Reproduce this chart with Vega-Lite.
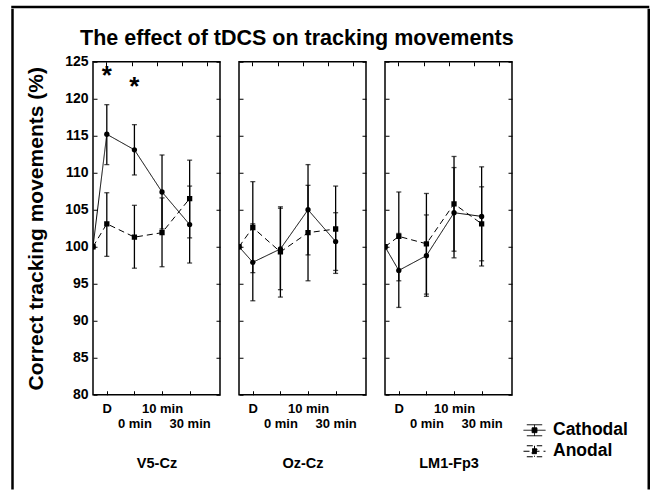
{
  "$schema": "https://vega.github.io/schema/vega-lite/v6.json",
  "background": "white",
  "padding": {"left": 11.25, "top": 5.75, "right": 3, "bottom": 0},
  "datasets": {
    "d": [
      {"site": "V5-Cz", "group": "Cathodal", "t": 0.5, "mean": 100, "lo": null, "hi": null},
      {"site": "V5-Cz", "group": "Cathodal", "t": 1, "mean": 115.2, "lo": 111.1, "hi": 119.2},
      {"site": "V5-Cz", "group": "Cathodal", "t": 2, "mean": 113.1, "lo": 109.7, "hi": 116.5},
      {"site": "V5-Cz", "group": "Cathodal", "t": 3, "mean": 107.4, "lo": 102.4, "hi": 112.4},
      {"site": "V5-Cz", "group": "Cathodal", "t": 4, "mean": 103.0, "lo": 97.8, "hi": 108.2},
      {"site": "V5-Cz", "group": "Anodal", "t": 0.5, "mean": 100, "lo": null, "hi": null},
      {"site": "V5-Cz", "group": "Anodal", "t": 1, "mean": 103.1, "lo": 98.7, "hi": 107.3},
      {"site": "V5-Cz", "group": "Anodal", "t": 2, "mean": 101.3, "lo": 97.1, "hi": 105.6},
      {"site": "V5-Cz", "group": "Anodal", "t": 3, "mean": 101.9, "lo": 97.3, "hi": 106.6},
      {"site": "V5-Cz", "group": "Anodal", "t": 4, "mean": 106.5, "lo": 101.2, "hi": 111.7},
      {"site": "Oz-Cz", "group": "Cathodal", "t": 0.5, "mean": 100, "lo": null, "hi": null},
      {"site": "Oz-Cz", "group": "Cathodal", "t": 1, "mean": 97.9, "lo": 92.7, "hi": 103.1},
      {"site": "Oz-Cz", "group": "Cathodal", "t": 2, "mean": 99.7, "lo": 94.2, "hi": 105.2},
      {"site": "Oz-Cz", "group": "Cathodal", "t": 3, "mean": 105.0, "lo": 98.9, "hi": 111.1},
      {"site": "Oz-Cz", "group": "Cathodal", "t": 4, "mean": 100.7, "lo": 96.8, "hi": 104.6},
      {"site": "Oz-Cz", "group": "Anodal", "t": 0.5, "mean": 100, "lo": null, "hi": null},
      {"site": "Oz-Cz", "group": "Anodal", "t": 1, "mean": 102.6, "lo": 96.5, "hi": 108.8},
      {"site": "Oz-Cz", "group": "Anodal", "t": 2, "mean": 99.3, "lo": 93.2, "hi": 105.4},
      {"site": "Oz-Cz", "group": "Anodal", "t": 3, "mean": 101.9, "lo": 95.4, "hi": 108.3},
      {"site": "Oz-Cz", "group": "Anodal", "t": 4, "mean": 102.4, "lo": 96.4, "hi": 108.2},
      {"site": "LM1-Fp3", "group": "Cathodal", "t": 0.5, "mean": 100, "lo": null, "hi": null},
      {"site": "LM1-Fp3", "group": "Cathodal", "t": 1, "mean": 96.8, "lo": 91.8, "hi": 101.8},
      {"site": "LM1-Fp3", "group": "Cathodal", "t": 2, "mean": 98.8, "lo": 93.3, "hi": 104.3},
      {"site": "LM1-Fp3", "group": "Cathodal", "t": 3, "mean": 104.6, "lo": 98.5, "hi": 110.7},
      {"site": "LM1-Fp3", "group": "Cathodal", "t": 4, "mean": 104.1, "lo": 97.4, "hi": 110.8},
      {"site": "LM1-Fp3", "group": "Anodal", "t": 0.5, "mean": 100, "lo": null, "hi": null},
      {"site": "LM1-Fp3", "group": "Anodal", "t": 1, "mean": 101.4, "lo": 95.4, "hi": 107.4},
      {"site": "LM1-Fp3", "group": "Anodal", "t": 2, "mean": 100.4, "lo": 93.6, "hi": 107.2},
      {"site": "LM1-Fp3", "group": "Anodal", "t": 3, "mean": 105.8, "lo": 99.4, "hi": 112.2},
      {"site": "LM1-Fp3", "group": "Anodal", "t": 4, "mean": 103.1, "lo": 98.1, "hi": 108.1}
    ],
    "stars": [
      {"site": "V5-Cz", "t": 1, "y": 123.3, "label": "*"},
      {"site": "V5-Cz", "t": 2, "y": 121.9, "label": "*"}
    ],
    "none": []
  },
  "spacing": 0,
  "bounds": "flush",
  "vconcat": [
    {
      "width": 638, "height": 2.5,
      "data": {"name": "none"},
      "mark": {"type": "point"},
      "view": {"fill": "black", "stroke": null}
    },
    {
      "spacing": 78.75,
      "bounds": "flush",
      "hconcat": [
        {
          "width": 2.5, "height": 480.75,
          "data": {"name": "none"},
          "mark": {"type": "point"},
          "view": {"fill": "black", "stroke": null}
        },
        {
          "spacing": 0,
          "bounds": "flush",
          "vconcat": [
            {
              "width": 127, "height": 52.75,
              "data": {"name": "none"},
              "mark": {"type": "point"},
              "view": {"stroke": null}
            },
            {
              "title": {"text": "The effect of tDCS on tracking movements", "font": "Liberation Sans", "fontWeight": "bold", "fontSize": 21.5, "color": "black", "anchor": "start", "frame": "group", "dx": -13, "offset": 5},
              "spacing": 19,
              "bounds": "flush",
              "resolve": {"legend": {"strokeDash": "independent"}},
              "hconcat": [
                {
                  "width": 127, "height": 333,
                  "data": {"name": "d"},
                  "transform": [{"filter": "datum.site == 'V5-Cz'"}],
                  "resolve": {"axis": {"x": "independent", "y": "independent"}},
                  "layer": [
                    {
                      "mark": {"type": "line", "clip": true, "color": "black", "strokeWidth": 1},
                      "encoding": {
                        "x": {"field": "t", "type": "quantitative", "scale": {"domain": [0.5, 5.1], "nice": false, "zero": false},
                              "axis": {"orient": "bottom", "values": [1, 2, 3, 4], "title": "V5-Cz", "titlePadding": 26, "titleFontSize": 14.5, "labelPadding": 12, "labelBaseline": "top", "labelLineHeight": 15, "labelFontSize": 13,
                                       "labelExpr": "datum.value == 1 ? 'D' : datum.value == 2 ? ['', '0 min'] : datum.value == 3 ? '10 min' : ['', '30 min']"}},
                        "y": {"field": "mean", "type": "quantitative", "scale": {"domain": [80, 125], "nice": false, "zero": false},
                              "axis": {"orient": "left", "values": [80, 85, 90, 95, 100, 105, 110, 115, 120, 125], "title": "Correct tracking movements (%)", "titleFontSize": 21, "titlePadding": 18, "labelPadding": 9}},
                        "strokeDash": {"field": "group", "type": "nominal", "scale": {"domain": ["Cathodal", "Anodal"], "range": [[1, 0], [6, 4]]}, "legend": null}
                      }
                    },
                    {
                      "transform": [{"filter": "datum.lo != null"}],
                      "mark": {"type": "errorbar", "color": "black", "thickness": 1.3, "ticks": {"size": 5, "color": "black"}},
                      "encoding": {
                        "x": {"field": "t", "type": "quantitative", "axis": null},
                        "y": {"field": "lo", "type": "quantitative", "axis": null},
                        "y2": {"field": "hi"}
                      }
                    },
                    {
                      "mark": {"type": "point", "filled": true, "clip": true, "color": "black", "opacity": 1},
                      "encoding": {
                        "x": {"field": "t", "type": "quantitative", "axis": {"orient": "top", "values": [0.98, 1.9, 2.8, 3.72, 4.64], "labels": false, "title": null}},
                        "y": {"field": "mean", "type": "quantitative", "axis": {"orient": "right", "values": [80, 85, 90, 95, 100, 105, 110, 115, 120, 125], "labels": false, "title": null}},
                        "shape": {"field": "group", "type": "nominal", "scale": {"domain": ["Cathodal", "Anodal"], "range": ["circle", "square"]}, "legend": null},
                        "size": {"value": 28}
                      }
                    },
                    {
                      "data": {"name": "stars"},
                      "mark": {"type": "text", "fontSize": 26, "fontWeight": "bold", "font": "Liberation Sans", "color": "black", "baseline": "middle", "dy": 2},
                      "encoding": {
                        "x": {"field": "t", "type": "quantitative", "axis": null},
                        "y": {"field": "y", "type": "quantitative", "axis": null},
                        "text": {"field": "label"}
                      }
                    }
                  ]
                },
                {
                  "width": 127, "height": 333,
                  "data": {"name": "d"},
                  "transform": [{"filter": "datum.site == 'Oz-Cz'"}],
                  "resolve": {"axis": {"x": "independent", "y": "independent"}},
                  "layer": [
                    {
                      "mark": {"type": "line", "clip": true, "color": "black", "strokeWidth": 1},
                      "encoding": {
                        "x": {"field": "t", "type": "quantitative", "scale": {"domain": [0.5, 5.1], "nice": false, "zero": false},
                              "axis": {"orient": "bottom", "values": [1, 2, 3, 4], "title": "Oz-Cz", "titlePadding": 26, "titleFontSize": 14.5, "labelPadding": 12, "labelBaseline": "top", "labelLineHeight": 15, "labelFontSize": 13,
                                       "labelExpr": "datum.value == 1 ? 'D' : datum.value == 2 ? ['', '0 min'] : datum.value == 3 ? '10 min' : ['', '30 min']"}},
                        "y": {"field": "mean", "type": "quantitative", "scale": {"domain": [80, 125], "nice": false, "zero": false},
                              "axis": {"orient": "left", "values": [80, 85, 90, 95, 100, 105, 110, 115, 120, 125], "labels": false, "title": null}},
                        "strokeDash": {"field": "group", "type": "nominal", "scale": {"domain": ["Cathodal", "Anodal"], "range": [[1, 0], [6, 4]]}, "legend": null}
                      }
                    },
                    {
                      "transform": [{"filter": "datum.lo != null"}],
                      "mark": {"type": "errorbar", "color": "black", "thickness": 1.3, "ticks": {"size": 5, "color": "black"}},
                      "encoding": {
                        "x": {"field": "t", "type": "quantitative", "axis": null},
                        "y": {"field": "lo", "type": "quantitative", "axis": null},
                        "y2": {"field": "hi"}
                      }
                    },
                    {
                      "mark": {"type": "point", "filled": true, "clip": true, "color": "black", "opacity": 1},
                      "encoding": {
                        "x": {"field": "t", "type": "quantitative", "axis": {"orient": "top", "values": [0.98, 1.9, 2.8, 3.72, 4.64], "labels": false, "title": null}},
                        "y": {"field": "mean", "type": "quantitative", "axis": {"orient": "right", "values": [80, 85, 90, 95, 100, 105, 110, 115, 120, 125], "labels": false, "title": null}},
                        "shape": {"field": "group", "type": "nominal", "scale": {"domain": ["Cathodal", "Anodal"], "range": ["circle", "square"]}, "legend": null},
                        "size": {"value": 28}
                      }
                    }
                  ]
                },
                {
                  "width": 127, "height": 333,
                  "data": {"name": "d"},
                  "transform": [{"filter": "datum.site == 'LM1-Fp3'"}],
                  "resolve": {"axis": {"x": "independent", "y": "independent"}},
                  "layer": [
                    {
                      "mark": {"type": "line", "clip": true, "color": "black", "strokeWidth": 1},
                      "encoding": {
                        "x": {"field": "t", "type": "quantitative", "scale": {"domain": [0.5, 5.1], "nice": false, "zero": false},
                              "axis": {"orient": "bottom", "values": [1, 2, 3, 4], "title": "LM1-Fp3", "titlePadding": 26, "titleFontSize": 14.5, "labelPadding": 12, "labelBaseline": "top", "labelLineHeight": 15, "labelFontSize": 13,
                                       "labelExpr": "datum.value == 1 ? 'D' : datum.value == 2 ? ['', '0 min'] : datum.value == 3 ? '10 min' : ['', '30 min']"}},
                        "y": {"field": "mean", "type": "quantitative", "scale": {"domain": [80, 125], "nice": false, "zero": false},
                              "axis": {"orient": "left", "values": [80, 85, 90, 95, 100, 105, 110, 115, 120, 125], "labels": false, "title": null}},
                        "strokeDash": {"field": "group", "type": "nominal", "scale": {"domain": ["Cathodal", "Anodal"], "range": [[1, 0], [6, 4]]},
                                       "legend": {"orient": "none", "legendX": 138, "legendY": 357, "padding": 0, "title": null, "symbolType": "M-1,0H1M0,-0.5V0.5M-0.7,-0.5H0.7M-0.7,0.5H0.7M-0.22,-0.22H0.22V0.22H-0.22Z", "symbolSize": 484, "symbolStrokeColor": "black", "symbolFillColor": "black", "symbolStrokeWidth": 1, "labelFont": "Liberation Sans", "labelFontWeight": "bold", "labelFontSize": 17.5, "labelColor": "black", "labelOffset": 7, "rowPadding": 1}}
                      }
                    },
                    {
                      "transform": [{"filter": "datum.lo != null"}],
                      "mark": {"type": "errorbar", "color": "black", "thickness": 1.3, "ticks": {"size": 5, "color": "black"}},
                      "encoding": {
                        "x": {"field": "t", "type": "quantitative", "axis": null},
                        "y": {"field": "lo", "type": "quantitative", "axis": null},
                        "y2": {"field": "hi"}
                      }
                    },
                    {
                      "mark": {"type": "point", "filled": true, "clip": true, "color": "black", "opacity": 1},
                      "encoding": {
                        "x": {"field": "t", "type": "quantitative", "axis": {"orient": "top", "values": [0.98, 1.9, 2.8, 3.72, 4.64], "labels": false, "title": null}},
                        "y": {"field": "mean", "type": "quantitative", "axis": {"orient": "right", "values": [80, 85, 90, 95, 100, 105, 110, 115, 120, 125], "labels": false, "title": null}},
                        "shape": {"field": "group", "type": "nominal", "scale": {"domain": ["Cathodal", "Anodal"], "range": ["circle", "square"]}, "legend": null},
                        "size": {"value": 28}
                      }
                    }
                  ]
                }
              ]
            }
          ]
        },
        {
          "width": 396.75, "height": 1,
          "data": {"name": "none"},
          "mark": {"type": "point"},
          "view": {"stroke": null}
        },
        {
          "width": 2.5, "height": 480.75,
          "data": {"name": "none"},
          "mark": {"type": "point"},
          "view": {"fill": "black", "stroke": null}
        }
      ]
    }
  ],
  "config": {
    "font": "Liberation Sans",
    "view": {"stroke": "black", "strokeWidth": 1.5},
    "axis": {"labelFont": "Liberation Sans", "labelFontWeight": "bold", "labelFontSize": 14, "labelColor": "black", "titleFont": "Liberation Sans", "titleFontWeight": "bold", "titleColor": "black", "tickColor": "black", "tickSize": -4, "tickWidth": 1, "domain": false, "grid": false, "labelFlush": false, "labelOverlap": false}
  }
}
